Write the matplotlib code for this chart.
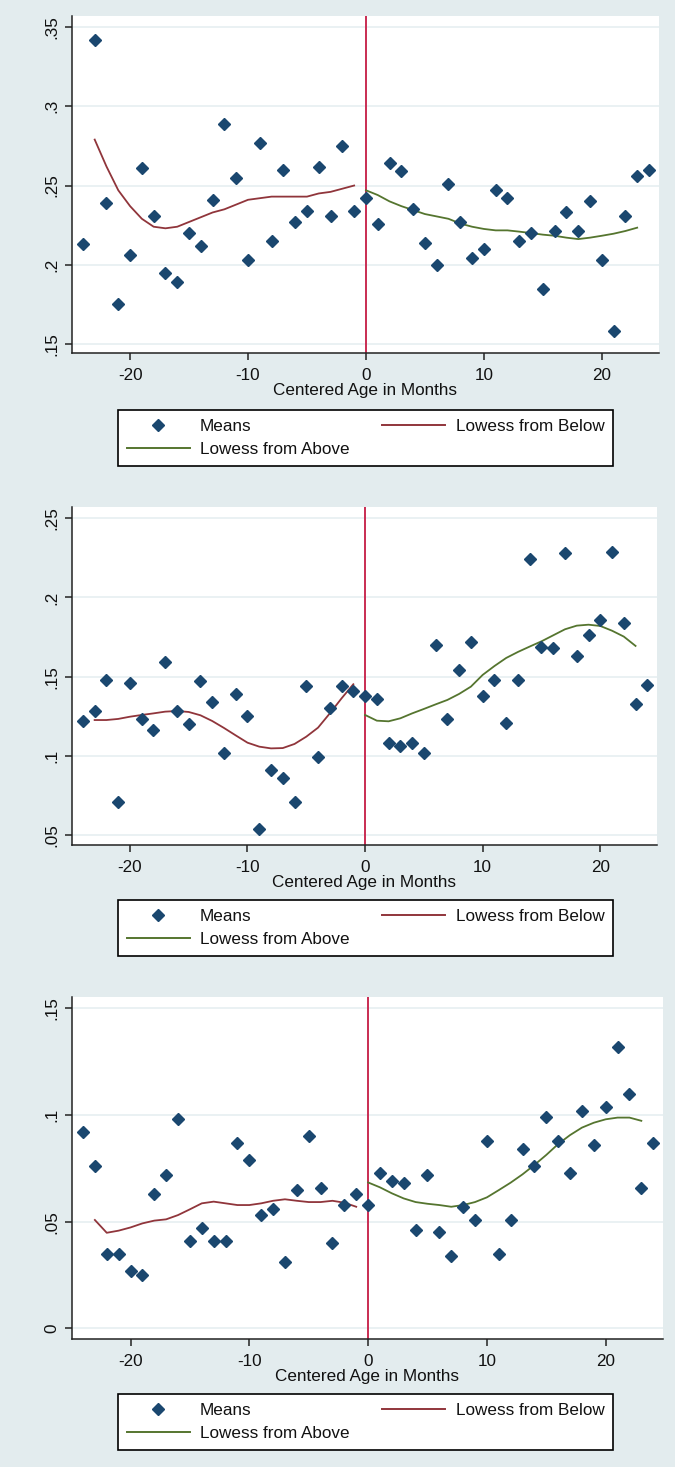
import numpy as np
import matplotlib.pyplot as plt
from matplotlib.lines import Line2D

plt.rcParams['font.family'] = ['Liberation Sans', 'DejaVu Sans']

# meses centrados alrededor del corte
meses = np.arange(-24, 25)
meses_abajo = np.arange(-23, 0)
meses_arriba = np.arange(0, 24)

# panel 1
medias_1 = [0.213, 0.342, 0.239, 0.175, 0.206, 0.261, 0.231, 0.195, 0.189, 0.220,
            0.212, 0.241, 0.289, 0.255, 0.203, 0.277, 0.215, 0.260, 0.227, 0.234,
            0.262, 0.231, 0.275, 0.234, 0.242,
            0.226, 0.264, 0.259, 0.235, 0.214, 0.200, 0.251, 0.227, 0.204, 0.210,
            0.247, 0.242, 0.215, 0.220, 0.185, 0.221, 0.233, 0.221, 0.240, 0.203,
            0.158, 0.231, 0.256, 0.260]
lowess_abajo_1 = [0.279, 0.262, 0.247, 0.237, 0.229, 0.224, 0.223, 0.224, 0.227, 0.230,
                  0.233, 0.235, 0.238, 0.241, 0.242, 0.243, 0.243, 0.243, 0.243, 0.245,
                  0.246, 0.248, 0.250]
lowess_arriba_1 = [0.247, 0.244, 0.240, 0.237, 0.2345, 0.232, 0.2305, 0.229, 0.226, 0.224,
                   0.2226, 0.2217, 0.2217, 0.2209, 0.220, 0.219, 0.2183, 0.2171, 0.2162,
                   0.2171, 0.2183, 0.2196, 0.2213, 0.2234]

# panel 2
medias_2 = [0.122, 0.128, 0.148, 0.071, 0.146, 0.123, 0.116, 0.159, 0.128, 0.120,
            0.147, 0.134, 0.102, 0.139, 0.125, 0.054, 0.091, 0.086, 0.071, 0.144,
            0.099, 0.130, 0.144, 0.141, 0.138,
            0.136, 0.108, 0.106, 0.108, 0.102, 0.170, 0.123, 0.154, 0.172, 0.138,
            0.148, 0.121, 0.148, 0.224, 0.169, 0.168, 0.228, 0.163, 0.176, 0.186,
            0.229, 0.184, 0.133, 0.145]
lowess_abajo_2 = [0.1226, 0.1226, 0.1233, 0.1247, 0.1258, 0.1268, 0.1279, 0.1283, 0.1277,
                  0.1256, 0.1220, 0.1176, 0.1129, 0.1083, 0.1058, 0.1047, 0.1049, 0.1075,
                  0.1121, 0.1178, 0.1268, 0.1363, 0.1452]
lowess_arriba_2 = [0.1258, 0.1222, 0.1218, 0.1237, 0.1268, 0.1296, 0.1325, 0.1353, 0.1391,
                   0.1437, 0.1511, 0.1567, 0.1618, 0.1656, 0.1690, 0.1723, 0.1761, 0.1799,
                   0.1822, 0.1828, 0.1820, 0.1790, 0.1753, 0.1694]

# panel 3
medias_3 = [0.092, 0.076, 0.035, 0.035, 0.027, 0.025, 0.063, 0.072, 0.098, 0.041,
            0.047, 0.041, 0.041, 0.087, 0.079, 0.053, 0.056, 0.031, 0.065, 0.090,
            0.066, 0.040, 0.058, 0.063, 0.058,
            0.073, 0.069, 0.068, 0.046, 0.072, 0.045, 0.034, 0.057, 0.051, 0.088,
            0.035, 0.051, 0.084, 0.076, 0.099, 0.088, 0.073, 0.102, 0.086, 0.104,
            0.132, 0.110, 0.066, 0.087]
lowess_abajo_3 = [0.0508, 0.0448, 0.0458, 0.0473, 0.0492, 0.0505, 0.0511, 0.0531, 0.0558,
                  0.0586, 0.0594, 0.0586, 0.0578, 0.0578, 0.0586, 0.0598, 0.0605, 0.0598,
                  0.0592, 0.0592, 0.0598, 0.0589, 0.0570]
lowess_arriba_3 = [0.0684, 0.0661, 0.0633, 0.0609, 0.0592, 0.0584, 0.0578, 0.0570, 0.0578,
                   0.0592, 0.0614, 0.0648, 0.0683, 0.0722, 0.0766, 0.0813, 0.0864, 0.0906,
                   0.0941, 0.0964, 0.0980, 0.0988, 0.0988, 0.0973]

yticks_1 = [0.15, 0.2, 0.25, 0.3, 0.35]
yticks_2 = [0.05, 0.1, 0.15, 0.2, 0.25]
yticks_3 = [0, 0.05, 0.1, 0.15]
xticks = [-20, -10, 0, 10, 20]

fondo = '#E3ECEE'
rejilla = '#E6EFF1'
azul = '#1A476F'
granate = '#90353B'
verde = '#55752F'
rojo_corte = '#C92C52'

W, H = 675, 1467
fig = plt.figure(figsize=(W / 100, H / 100), dpi=100, facecolor=fondo)

# (izq, der, arriba, abajo) en pixeles, ylim, y caja de leyenda (izq, arriba)
paneles = [
    (medias_1, lowess_abajo_1, lowess_arriba_1, yticks_1, (71.7, 659, 16, 353), (0.1443, 0.357), (118, 410)),
    (medias_2, lowess_abajo_2, lowess_arriba_2, yticks_2, (71.7, 657.3, 506.7, 845), (0.0437, 0.2573), (118, 900)),
    (medias_3, lowess_abajo_3, lowess_arriba_3, yticks_3, (71.7, 663.3, 997.3, 1339), (-0.005, 0.1552), (118, 1394)),
]


def etiqueta(v):
    if v == 0:
        return '0'
    return ('%g' % v).lstrip('0')


for medias, abajo, arriba, yticks, caja, ylim, ley in paneles:
    x0, x1, y0, y1 = caja
    ax = fig.add_axes([x0 / W, 1 - y1 / H, (x1 - x0) / W, (y1 - y0) / H])
    ax.set_facecolor('white')
    ax.set_xlim(-24.95, 24.85)
    ax.set_ylim(*ylim)

    for t in yticks:
        ax.axhline(t, color=rejilla, lw=1.2, zorder=0)

    ax.axvline(0, color=rojo_corte, lw=1.4, zorder=1)
    ax.plot(meses, medias, linestyle='none', marker='D', ms=5.9,
            color=azul, mec=azul, zorder=3)
    ax.plot(meses_abajo, abajo, color=granate, lw=1.3, zorder=2)
    ax.plot(meses_arriba, arriba, color=verde, lw=1.3, zorder=2)

    for lado in ('top', 'right'):
        ax.spines[lado].set_visible(False)
    for lado in ('left', 'bottom'):
        ax.spines[lado].set_color('#222222')
        ax.spines[lado].set_linewidth(1.1)

    ax.set_xticks(xticks)
    ax.set_xticklabels([str(t) for t in xticks])
    ax.set_yticks(yticks)
    ax.set_yticklabels([etiqueta(t) for t in yticks], rotation=90, va='center')
    ax.tick_params(axis='both', direction='out', length=5, width=1.1,
                   color='#222222', labelsize=12.3, labelcolor='#111111')
    ax.tick_params(axis='x', pad=5.5)
    ax.tick_params(axis='y', pad=4)
    ax.set_xlabel('Centered Age in Months', fontsize=12.3, color='#111111', labelpad=0.5)

    manijas = [
        Line2D([], [], linestyle='none', marker='D', ms=5.9, color=azul),
        Line2D([], [], color=verde, lw=1.4),
        Line2D([], [], color=granate, lw=1.4),
    ]
    textos = ['Means', 'Lowess from Above', 'Lowess from Below']
    lx, ly = ley
    leg = ax.legend(manijas, textos, ncol=2, loc='upper left',
                    bbox_to_anchor=(lx / W, 1 - ly / H), bbox_transform=fig.transFigure,
                    fontsize=12.3, handlelength=3.7, handletextpad=0.6,
                    columnspacing=1.9, labelspacing=0.5, borderpad=0.5,
                    borderaxespad=0, fancybox=False, framealpha=1,
                    edgecolor='black', numpoints=1)
    leg.get_frame().set_linewidth(1.2)
    for tx in leg.get_texts():
        tx.set_color('#111111')

fig.savefig('out.png', dpi=100, facecolor=fondo)
